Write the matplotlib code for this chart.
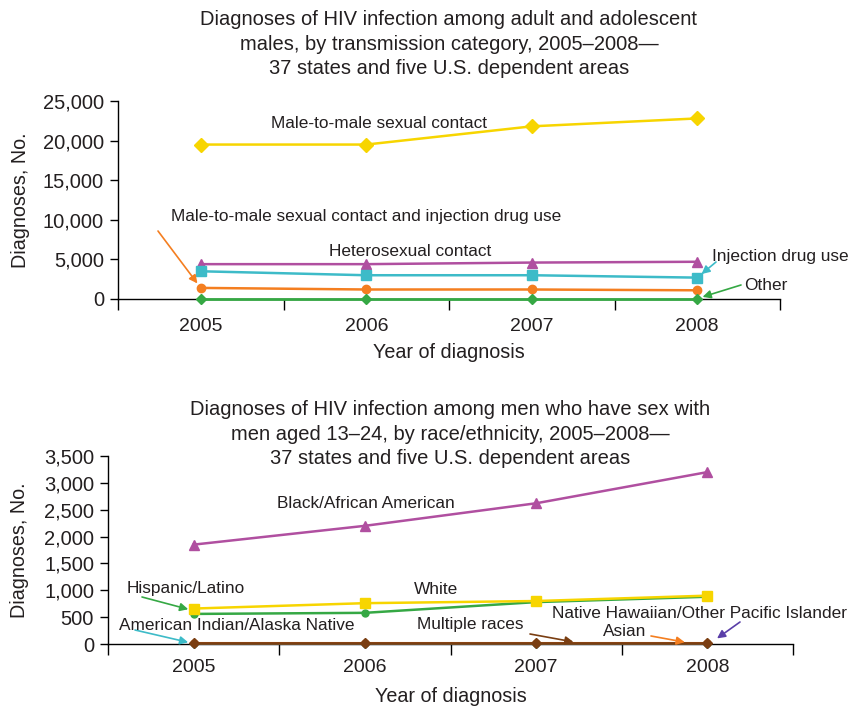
import matplotlib
matplotlib.use("Agg")
import matplotlib.pyplot as plt
from matplotlib.ticker import FuncFormatter

plt.rcParams['font.family'] = ['Liberation Sans', 'DejaVu Sans']
plt.rcParams['text.color'] = '#231F20'
plt.rcParams['axes.labelcolor'] = '#231F20'
plt.rcParams['xtick.labelcolor'] = '#231F20'
plt.rcParams['ytick.labelcolor'] = '#231F20'

years = ["2005", "2006", "2007", "2008"]

# top panel: adult and adolescent males by transmission category
msm = [19500, 19500, 21800, 22800]
hetero = [4400, 4400, 4600, 4700]
idu = [3500, 3000, 3000, 2700]
msm_idu = [1400, 1200, 1200, 1100]
other = [60, 60, 60, 60]

# bottom panel: MSM aged 13-24 by race/ethnicity
black = [1850, 2200, 2620, 3200]
white = [660, 760, 800, 900]
hispanic = [560, 580, 780, 880]
multiple = [20, 20, 20, 20]
asian = [15, 15, 15, 15]
aian = [8, 8, 8, 8]
nhopi = [4, 4, 4, 4]

YELLOW = "#F7D500"
PURPLE = "#B04FA0"
CYAN = "#3DBBC8"
ORANGE = "#F47E20"
GREEN = "#35A844"
BROWN = "#7A3E12"
VIOLET = "#5A3FA8"

W, H = 850, 709
fig = plt.figure(figsize=(8.5, 7.09), dpi=100)


def px(x, y):
    return x / W, 1 - y / H


def style(ax, ymax, step, xpad):
    ax.set_xlim(-0.5, 3.5)
    ax.set_ylim(0, ymax)
    ax.set_yticks(range(0, ymax + 1, step))
    ax.yaxis.set_major_formatter(FuncFormatter(lambda v, p: f"{int(v):,}"))
    ax.set_xticks([-0.5, 0.5, 1.5, 2.5, 3.5])
    ax.set_xticklabels([])
    ax.set_xticks(range(4), minor=True)
    ax.set_xticklabels(years, minor=True)
    ax.tick_params(axis="x", which="major", length=8, width=1, direction="out")
    ax.tick_params(axis="x", which="minor", length=0, pad=xpad, labelsize=14)
    ax.tick_params(axis="y", length=6, width=1, pad=4, labelsize=14.5)
    for s in ["top", "right"]:
        ax.spines[s].set_visible(False)
    ax.spines["left"].set_linewidth(1)
    ax.spines["bottom"].set_linewidth(1)
    ax.set_ylabel("Diagnoses, No.", fontsize=14.2, va="center")
    ax.set_xlabel("Year of diagnosis", fontsize=14.2, va="center")


x = range(4)
fs = 12.4
tfs = 14.5


def note(ax, text, xy, tpos, apos, color):
    fig.text(*tpos, text, ha="center", va="center", fontsize=fs)
    ax.annotate("", xy=xy, xycoords="data", xytext=apos, textcoords="figure fraction",
                arrowprops=dict(arrowstyle="-|>", color=color, lw=1.2,
                                mutation_scale=12, shrinkA=0, shrinkB=4))


# ---------------- top chart ----------------
l, b = px(118, 299)
r, t = px(780, 101)
ax1 = fig.add_axes([l, b, r - l, t - b])
ax1.plot(x, msm, color=YELLOW, marker="D", markersize=7, lw=1.8, clip_on=False, zorder=3)
ax1.plot(x, hetero, color=PURPLE, marker="^", markersize=7, lw=1.8, clip_on=False, zorder=3)
ax1.plot(x, idu, color=CYAN, marker="s", markersize=7, lw=1.8, clip_on=False, zorder=3)
ax1.plot(x, msm_idu, color=ORANGE, marker="o", markersize=6, lw=1.8, clip_on=False, zorder=3)
ax1.plot(x, other, color=GREEN, marker="D", markersize=5, lw=2, clip_on=False, zorder=3)
style(ax1, 25000, 5000, 14)
ax1.yaxis.set_label_coords((20 - 118) / 662, 0.5)
ax1.xaxis.set_label_coords(0.5, -54 / 198)

fig.text(*px(449, 44), "Diagnoses of HIV infection among adult and adolescent\n"
         "males, by transmission category, 2005\u20132008\u2014\n"
         "37 states and five U.S. dependent areas",
         ha="center", va="center", fontsize=tfs, linespacing=1.37)

fig.text(*px(379, 123), "Male-to-male sexual contact", ha="center", va="center", fontsize=fs)
fig.text(*px(410, 252), "Heterosexual contact", ha="center", va="center", fontsize=fs)

note(ax1, "Male-to-male sexual contact and injection drug use", (0, msm_idu[0]),
     px(366, 217), px(158, 231), ORANGE)
note(ax1, "Injection drug use", (3, idu[3]), px(780, 256), px(716, 262), CYAN)
note(ax1, "Other", (3, other[3]), px(766, 286), px(741, 285), GREEN)

# ---------------- bottom chart ----------------
l, b = px(108, 644)
r, t = px(793, 456)
ax2 = fig.add_axes([l, b, r - l, t - b])
ax2.plot(x, black, color=PURPLE, marker="^", markersize=7, lw=1.8, clip_on=False, zorder=3)
ax2.plot(x, hispanic, color=GREEN, marker="o", markersize=5, lw=1.8, clip_on=False, zorder=3)
ax2.plot(x, white, color=YELLOW, marker="s", markersize=7, lw=1.8, clip_on=False, zorder=3)
ax2.plot(x, nhopi, color=VIOLET, marker="o", markersize=4, lw=1.5, clip_on=False, zorder=3)
ax2.plot(x, aian, color=CYAN, marker="D", markersize=4, lw=1.5, clip_on=False, zorder=3)
ax2.plot(x, asian, color=ORANGE, marker="o", markersize=5, lw=1.5, clip_on=False, zorder=3)
ax2.plot(x, multiple, color=BROWN, marker="D", markersize=5, lw=2, clip_on=False, zorder=3)
style(ax2, 3500, 500, 11)
ax2.yaxis.set_label_coords((20 - 108) / 685, 0.5)
ax2.xaxis.set_label_coords(0.5, -53 / 188)

fig.text(*px(450, 434), "Diagnoses of HIV infection among men who have sex with\n"
         "men aged 13\u201324, by race/ethnicity, 2005\u20132008\u2014\n"
         "37 states and five U.S. dependent areas",
         ha="center", va="center", fontsize=tfs, linespacing=1.37)

fig.text(*px(366, 503), "Black/African American", ha="center", va="center", fontsize=fs)
fig.text(*px(436, 589), "White", ha="center", va="center", fontsize=fs)
note(ax2, "Hispanic/Latino", (0, hispanic[0] + 60), px(186, 589), px(142, 597), GREEN)
note(ax2, "American Indian/Alaska Native", (0, aian[0]), px(237, 625), px(135, 630), CYAN)
note(ax2, "Multiple races", (2.25, multiple[2]), px(470, 625), px(530, 634), BROWN)
note(ax2, "Native Hawaiian/Other Pacific Islander", (3.03, nhopi[3] + 40), px(700, 613),
     px(740, 622), VIOLET)
note(ax2, "Asian", (2.9, asian[3]), px(625, 632), px(651, 636), ORANGE)

fig.savefig("out.png", dpi=100)
